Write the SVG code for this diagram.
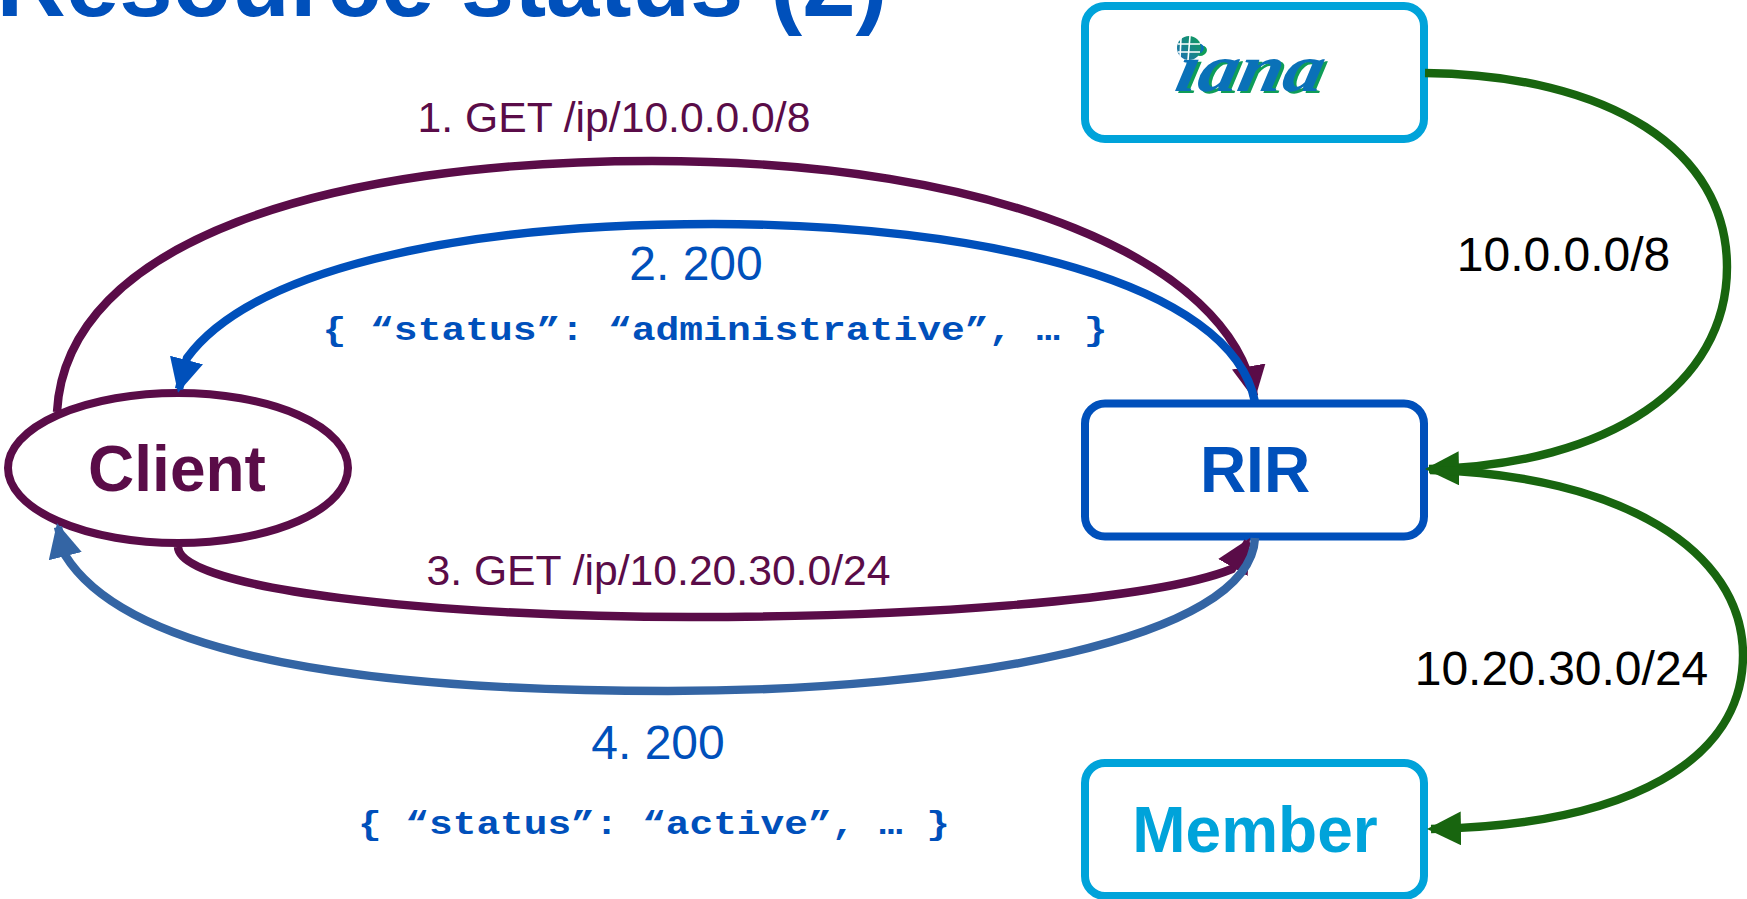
<svg xmlns="http://www.w3.org/2000/svg" width="1747" height="899" viewBox="0 0 1747 899">
<style>
text{font-family:"Liberation Sans",Arial,sans-serif;text-anchor:middle}
.l{font-size:42.67px;fill:#5a0c48}
.b{font-size:48px;fill:#0050bb}
.k{font-size:48px;fill:#000}
.m{font-family:"Liberation Mono","Courier New",monospace;font-weight:700;font-size:34px;fill:#0050bb}
.n{font-size:64px;font-weight:700}
.box{fill:#fff;stroke-width:8}
.c{fill:none;stroke-width:8.4}
.logo{font-family:"Liberation Serif",serif;text-anchor:start;font-size:68px;font-weight:700;font-style:italic}
</style>
<defs>
<marker id="ap" markerUnits="userSpaceOnUse" markerWidth="40" markerHeight="40" refX="30" refY="17" orient="auto" viewBox="0 0 40 40"><path d="M0,0L34,17L0,34Z" fill="#5a0c48"/></marker>
<marker id="ab" markerUnits="userSpaceOnUse" markerWidth="40" markerHeight="40" refX="30" refY="17" orient="auto" viewBox="0 0 40 40"><path d="M0,0L34,17L0,34Z" fill="#0050bb"/></marker>
<marker id="as" markerUnits="userSpaceOnUse" markerWidth="40" markerHeight="40" refX="30" refY="17" orient="auto" viewBox="0 0 40 40"><path d="M0,0L34,17L0,34Z" fill="#3465a4"/></marker>
<marker id="ag" markerUnits="userSpaceOnUse" markerWidth="40" markerHeight="40" refX="30" refY="17" orient="auto" viewBox="0 0 40 40"><path d="M0,0L34,17L0,34Z" fill="#18650f"/></marker>
<linearGradient id="gl" x1="0" y1="1" x2="1" y2="0"><stop offset="0" stop-color="#1f6fb8"/><stop offset="1" stop-color="#0f9d58"/></linearGradient>
</defs>
<text x="442" y="16" font-size="96" font-weight="700" fill="#0050bb">Resource status (2)</text>
<g id="client"><ellipse cx="178" cy="468" rx="170" ry="75" fill="#fff" stroke="#5a0c48" stroke-width="8"/><text class="n" x="177" y="491" fill="#5a0c48">Client</text></g>
<g id="iana"><rect class="box" x="1085" y="6" width="339" height="133" rx="20" stroke="#00a3da"/>
<text class="logo" transform="translate(1176,93) skewX(-12)" textLength="147" lengthAdjust="spacingAndGlyphs" fill="#0f9d58">iana</text>
<text class="logo" transform="translate(1173,91) skewX(-12)" textLength="147" lengthAdjust="spacingAndGlyphs" fill="#0a71b8">iana</text>
<circle cx="1189" cy="48" r="12" fill="url(#gl)"/>
<path d="M1181,38L1180,58M1190,36L1188,60M1178,44H1200M1178,52H1200" stroke="#fff" stroke-width="1.6" fill="none"/></g>
<g id="rir"><rect class="box" x="1085" y="403.5" width="339" height="133" rx="20" stroke="#0050bb"/><text class="n" x="1255" y="492" fill="#0050bb">RIR</text></g>
<g id="member"><rect class="box" x="1085" y="763" width="339" height="133" rx="20" stroke="#00a3da"/><text class="n" x="1255" y="852" fill="#00a3da">Member</text></g>
<g id="connectors">
<path class="c" stroke="#5a0c48" marker-end="url(#ap)" d="M57,412C66,240 330,161 652,161C1000,161 1230,262 1254,396"/>
<path class="c" stroke="#0050bb" marker-end="url(#ab)" d="M1255,402C1232,282 980,224 713,224C450,224 250,272 187,358L179,389"/>
<path class="c" stroke="#5a0c48" marker-end="url(#ap)" d="M178,547C180,590 440,617 691,617C900,617 1150,602 1232,569L1248,541.5"/>
<path class="c" stroke="#3465a4" marker-end="url(#as)" d="M1255,538C1250,640 960,691 668,691C380,691 130,660 65,555L58,527"/>
<path class="c" stroke="#18650f" marker-end="url(#ag)" d="M1425,73C1610,75 1727,150 1727,267C1727,385 1610,465 1429,469"/>
<path class="c" stroke="#18650f" marker-end="url(#ag)" d="M1430,470C1620,475 1743,550 1743,655C1743,760 1630,825 1431,829"/>
</g>
<g id="labels">
<text class="l" x="614" y="132">1. GET /ip/10.0.0.0/8</text>
<text class="b" x="696" y="280">2. 200</text>
<text class="m" x="715" y="340" textLength="785" lengthAdjust="spacingAndGlyphs">{ “status”: “administrative”, … }</text>
<text class="l" x="658.5" y="585">3. GET /ip/10.20.30.0/24</text>
<text class="b" x="658" y="759">4. 200</text>
<text class="m" x="654" y="834" textLength="592" lengthAdjust="spacingAndGlyphs">{ “status”: “active”, … }</text>
<text class="k" x="1563.5" y="271">10.0.0.0/8</text>
<text class="k" x="1561.5" y="685">10.20.30.0/24</text>
</g>
</svg>
